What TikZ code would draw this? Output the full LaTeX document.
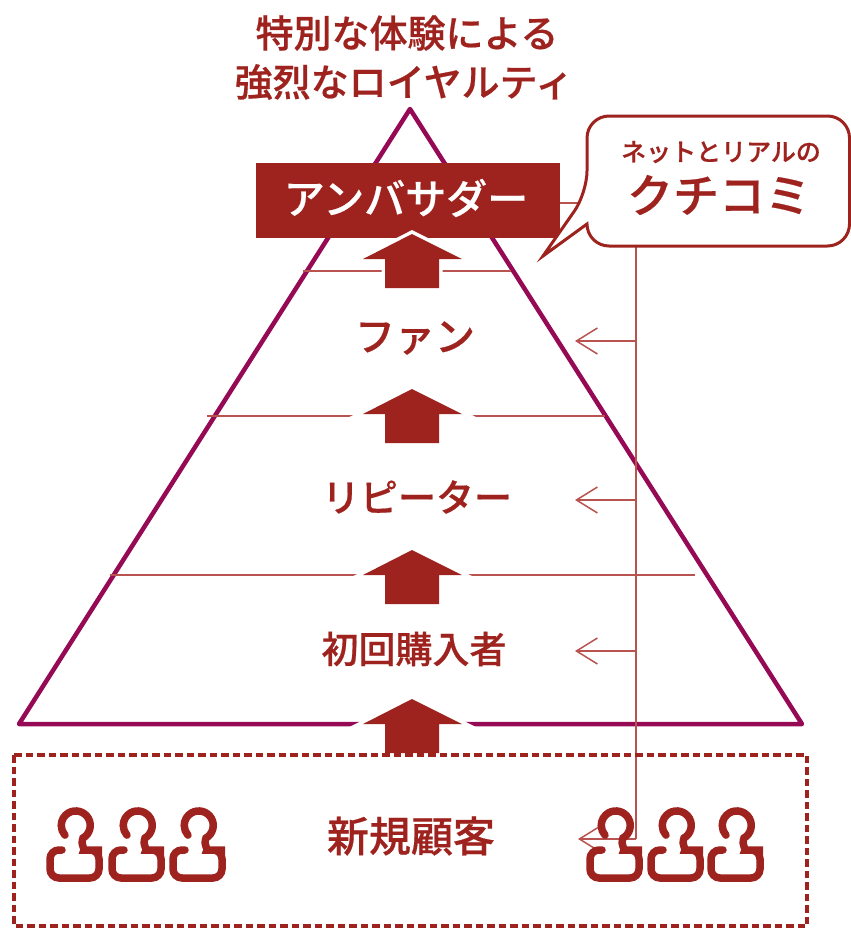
\documentclass[tikz,border=0pt]{standalone}
\usepackage{fontspec}
\usetikzlibrary{arrows.meta}
\newfontfamily\cjk[FakeBold=0.5]{Noto Sans CJK JP Medium}
\definecolor{brick}{HTML}{9E231F}
\definecolor{brickthin}{HTML}{B8534F}
\definecolor{plum}{HTML}{960A55}
\newcommand{\fsz}[1]{\fontsize{#1}{#1}\selectfont\cjk}
\tikzset{
  person/.pic={
    \draw[brick, line width=7.5pt, line cap=round, rounded corners=9pt]
      (-13,850) -- (-25,850) -- (-25,878) -- (24,878) -- (24,850) -- (18,850) [sharp corners]
      .. controls (11,850) and (5,846) .. (8,838) arc (60:-222:14.5);
  }
}

\begin{document}
\begin{tikzpicture}[x=1pt,y=-1pt]
  \useasboundingbox (0,0) rectangle (851,929);
  \tikzstyle{lbl} = [text=brick, inner sep=0pt, align=center]
  \tikzstyle{thin} = [draw=brickthin, line width=1.8pt]
  \tikzstyle{branch} = [draw=brickthin, line width=1.8pt, -{Straight Barb[length=21pt,width=26pt,line width=1.5pt]}]
  % pyramid
  \draw[plum, line width=4.5pt, line join=round] (410,109) -- (802,724) -- (19,724) -- cycle;
  \draw[thin] (303,271) -- (511,271);
  \draw[thin] (207,416) -- (605,416);
  \draw[thin] (110,575) -- (695,575);
  % top box
  \node[fill=brick, minimum width=304pt, minimum height=75pt, inner sep=0pt] (amb) at (408,200.5) {};
  \node[text=white, inner sep=0pt, font=\fsz{41}] at (406,198) {アンバサダー};
  % steps between the levels
  \foreach \y/\b in {259/288, 414/443, 575/604, 724/753}{
    \filldraw[brick, preaction={draw=white, line width=7pt}, draw=none]
      (412,\y-25) -- (462,\y) -- (439,\y) -- (439,\b) -- (385,\b) -- (385,\y) -- (363,\y) -- cycle;
  }
  % word of mouth
  \coordinate (mouthtop) at (636,246);
  \coordinate (mouthend) at (636,839);
  \draw[thin] (mouthtop) -- (mouthend);
  \foreach \i/\y/\x in {1/341/575, 2/500/575, 3/651/575, 4/839/578}{
    \coordinate (from\i) at (636,\y);
    \coordinate (to\i) at (\x,\y);
    \draw[branch] (from\i) -- (to\i);
  }
  % bottom box
  \draw[brick, line width=3.3pt, dash pattern=on 7.5pt off 4pt] (14,755) rectangle (807,926);
  \foreach \x in {75,137,198,615,676,736}{
    \pic at (\x,0) {person};
  }
  \coordinate (mouthleft) at (590,203);
  \draw[thin] (amb.east |- mouthleft) -- (mouthleft);
  % callout
  \draw[brick, line width=3pt, fill=white] (543,256) -- (587,224) [rounded corners=22pt]
    -- (587,246) -- (849.5,246) -- (849.5,116) -- (587,116) -- (587,193) [sharp corners] -- cycle;
  \node[lbl, font=\fsz{25}] (net) at (721,152) {ネットとリアルの};
  \node[lbl, font=\fsz{46}] (kuchi) at (719,195) {クチコミ};
  % labels
  \node[lbl, font=\fsz{38}] (t1) at (407,33) {特別な体験による};
  \node[lbl, font=\fsz{38}] (t2) at (404,82) {強烈なロイヤルティ};
  \node[lbl, font=\fsz{40}] (fan) at (415,338) {ファン};
  \node[lbl, font=\fsz{38}] (rep) at (417,497) {リピーター};
  \node[lbl, font=\fsz{37}] (first) at (414,649) {初回購入者};
  \node[lbl, font=\fsz{42}] (newc) at (411,836) {新規顧客};
\end{tikzpicture}
\end{document}
